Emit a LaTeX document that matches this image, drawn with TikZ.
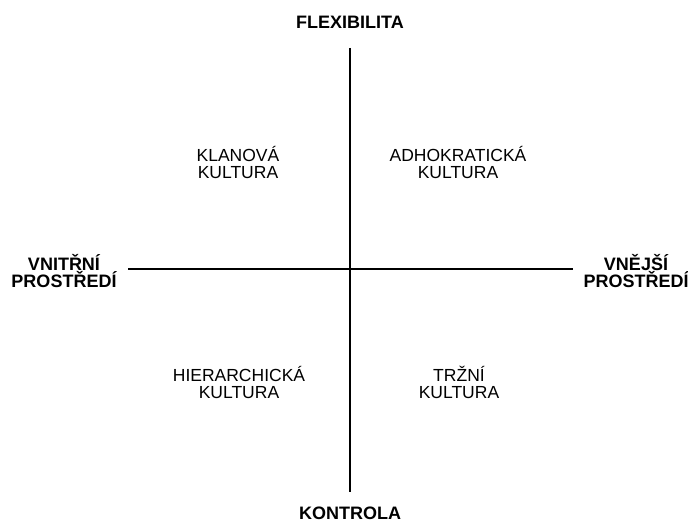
\documentclass[tikz,border=0pt]{standalone}
\usepackage{fontspec}
\setmainfont{Liberation Sans}
\usetikzlibrary{positioning}
\tikzset{
  axislabel/.style={align=center, inner sep=0pt, font=\fontsize{18}{16}\selectfont\bfseries},
  quadlabel/.style={align=center, inner sep=0pt, font=\fontsize{17.5}{17}\selectfont},
  axisline/.style={line width=2pt}
}
\begin{document}
\begin{tikzpicture}[x=1pt, y=-1pt]
\useasboundingbox (0,0) rectangle (688,524);
% axes
\coordinate (axtop) at (350,48);
\coordinate (axbot) at (350,492);
\coordinate (axleft) at (128,269);
\coordinate (axright) at (573,269);
\draw[axisline] (axtop) -- (axbot);
\draw[axisline] (axleft) -- (axright);
% axis labels
\node[axislabel] (flex) at (350,22) {FLEXIBILITA};
\node[axislabel] (kontrola) at (350,513) {KONTROLA};
\node[axislabel] (vnitrni) at (64,271) {VNITŘNÍ\\PROSTŘEDÍ};
\node[axislabel] (vnejsi) at (636,271) {VNĚJŠÍ\\PROSTŘEDÍ};
% quadrants
\node[quadlabel] (klan) at (238,162) {KLANOVÁ\\KULTURA};
\node[quadlabel] (adhoc) at (458,162) {ADHOKRATICKÁ\\KULTURA};
\node[quadlabel] (hier) at (239,382) {HIERARCHICKÁ\\KULTURA};
\node[quadlabel] (trzni) at (459,382) {TRŽNÍ\\KULTURA};
\end{tikzpicture}
\end{document}
